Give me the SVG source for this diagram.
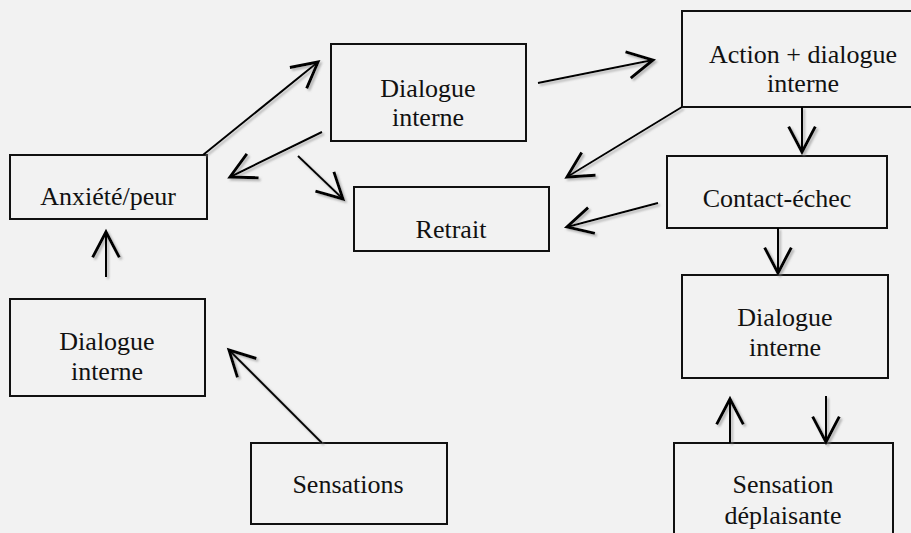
<svg xmlns="http://www.w3.org/2000/svg" width="911" height="533" viewBox="0 0 911 533">
<defs>
<style>
.box{fill:#f2f2f2;stroke:#111;stroke-width:2}
.t{font-family:"Liberation Serif","Times New Roman",serif;font-size:26px;fill:#111;text-anchor:middle}
.c line{stroke:#000;stroke-width:2;marker-end:url(#ah)}
</style>
<marker id="ah" markerUnits="userSpaceOnUse" orient="auto" refX="0" refY="0" markerWidth="40" markerHeight="40" viewBox="-25 -15 30 30" overflow="visible">
<path d="M -19 -10 L 0 0 L -19 10" fill="none" stroke="#000" stroke-width="2.2" stroke-linejoin="miter"/>
</marker>
<filter id="sh" x="-20%" y="-20%" width="140%" height="140%">
<feDropShadow dx="2" dy="2" stdDeviation="1" flood-color="#888" flood-opacity="0.6"/>
</filter>
</defs>
<rect width="911" height="533" fill="#f2f2f2"/>
<g id="anxiete"><rect class="box" x="10" y="155" width="197" height="64"/><text class="t" x="108" y="205">Anxiété/peur</text></g>
<g id="dialogue-haut"><rect class="box" x="331" y="44" width="195" height="97"/><text class="t" x="428" y="97">Dialogue</text><text class="t" x="428" y="126">interne</text></g>
<g id="retrait"><rect class="box" x="354" y="187" width="195" height="64"/><text class="t" x="451" y="238">Retrait</text></g>
<g id="action"><rect class="box" x="682" y="11" width="240" height="96"/><text class="t" x="803" y="63">Action + dialogue</text><text class="t" x="803" y="92">interne</text></g>
<g id="contact"><rect class="box" x="667" y="156" width="220" height="72"/><text class="t" x="777" y="207">Contact-échec</text></g>
<g id="dialogue-droite"><rect class="box" x="682" y="275" width="206" height="103"/><text class="t" x="785" y="326">Dialogue</text><text class="t" x="785" y="356">interne</text></g>
<g id="sensation-deplaisante"><rect class="box" x="674" y="443" width="219" height="100"/><text class="t" x="783" y="493">Sensation</text><text class="t" x="783" y="524">déplaisante</text></g>
<g id="dialogue-gauche"><rect class="box" x="10" y="299" width="195" height="97"/><text class="t" x="107" y="350">Dialogue</text><text class="t" x="107" y="380">interne</text></g>
<g id="sensations"><rect class="box" x="251" y="443" width="196" height="81"/><text class="t" x="348" y="493">Sensations</text></g>
<g id="connectors" class="c" filter="url(#sh)">
<line x1="203" y1="155" x2="318" y2="62"/>
<line x1="322" y1="132" x2="230" y2="177"/>
<line x1="298" y1="156" x2="343" y2="199"/>
<line x1="538" y1="83" x2="653" y2="60"/>
<line x1="682" y1="107" x2="567" y2="177"/>
<line x1="658" y1="203" x2="567" y2="227"/>
<line x1="802" y1="107" x2="802" y2="152"/>
<line x1="778" y1="228" x2="778" y2="273"/>
<line x1="730" y1="443" x2="730" y2="399"/>
<line x1="826" y1="396" x2="826" y2="442"/>
<line x1="106" y1="277" x2="106" y2="232"/>
<line x1="322" y1="443" x2="229" y2="350"/>
</g>
</svg>
